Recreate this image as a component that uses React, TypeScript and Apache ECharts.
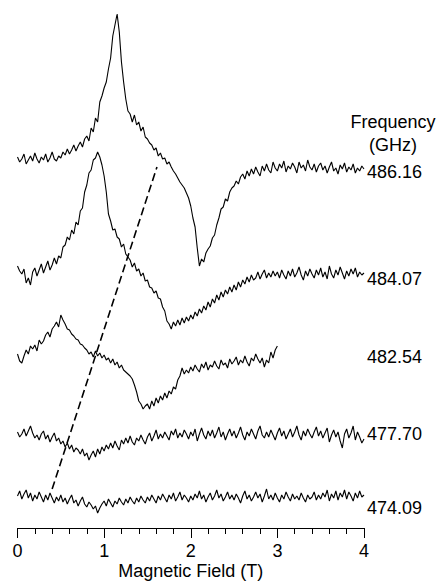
import React, { useEffect, useRef } from "react";
import * as echarts from "echarts";

// Magnetic field sampling step (T)
const FIELD_STEP = 0.025;

// Frequencies (GHz) labelling each trace, top to bottom
const frequencies = ["486.16", "484.07", "482.54", "477.70", "474.09"];

// Offset signal (a.u.) per trace, sampled every 0.025 T from 0 T (20 samples per row = 0.5 T)
const trace48616 = [
  371, 366, 369, 374, 364, 368, 372, 367, 375, 369, 365, 371, 368, 374, 366, 370, 376, 369, 367, 372,
  370, 376, 373, 379, 374, 378, 383, 377, 382, 386, 381, 389, 392, 387, 400, 396, 410, 406, 426, 432,
  440, 446, 459, 470, 492, 503, 514, 496, 466, 446, 429, 417, 414, 406, 413, 403, 406, 397, 401, 391,
  389, 385, 383, 378, 380, 372, 375, 369, 370, 364, 366, 361, 357, 354, 350, 346, 343, 340, 335, 330,
  322, 310, 301, 280, 262, 269, 266, 275, 279, 282, 290, 293, 303, 310, 319, 321, 329, 327, 336, 340,
  342, 347, 344, 351, 354, 349, 357, 352, 359, 354, 361, 356, 352, 362, 357, 364, 358, 355, 366, 360,
  357, 364, 360, 367, 356, 362, 359, 365, 361, 355, 366, 360, 363, 357, 368, 361, 358, 364, 356, 362,
  365, 358, 362, 355, 361, 366, 357, 360, 354, 363, 359, 365, 356, 361, 358, 364, 355, 360, 357, 362,
  359,
];
const trace48407 = [
  262, 257, 254, 259, 245, 250, 243, 256, 260, 252, 258, 264, 255, 261, 267, 258, 263, 270, 264, 272,
  270, 281, 283, 291, 288, 298, 294, 306, 303, 317, 320, 336, 343, 355, 358, 368, 370, 376, 371, 363,
  352, 336, 314, 307, 298, 299, 291, 289, 281, 284, 274, 271, 268, 261, 265, 257, 259, 252, 255, 247,
  248, 241, 240, 235, 237, 230, 229, 221, 217, 207, 204, 199, 206, 202, 208, 203, 210, 205, 211, 207,
  213, 209, 216, 212, 219, 215, 222, 218, 226, 221, 229, 225, 233, 228, 236, 231, 238, 234, 241, 236,
  243, 238, 246, 241, 248, 244, 251, 246, 253, 248, 250, 256, 249, 254, 258, 250, 255, 251, 257, 252,
  256, 250, 258, 253, 249, 257, 252, 259, 251, 255, 261, 253, 248, 257, 252, 259, 254, 250, 258, 253,
  260, 251, 256, 249, 262, 254, 250, 258, 253, 261, 255, 249, 257, 252, 259, 254, 260, 251, 256, 253,
  255,
];
const trace48254 = [
  174, 167, 165, 172, 178, 174, 182, 179, 183, 177, 188, 184, 187, 193, 196, 191, 199, 202, 206, 201,
  213, 208, 204, 199, 198, 194, 192, 189, 188, 184, 183, 180, 178, 174, 176, 171, 177, 172, 175, 170,
  173, 168, 170, 165, 169, 163, 166, 160, 163, 158, 156, 154, 152, 149, 143, 136, 127, 124, 119, 122,
  124, 119, 127, 122, 130, 125, 132, 128, 135, 130, 137, 134, 141, 139, 148, 152, 160, 154, 158, 155,
  161, 157, 163, 159, 156, 164, 160, 166, 158, 163, 161, 167, 162, 159, 168, 163, 165, 160, 169, 164,
  167, 171, 163, 168, 165, 172, 166, 162, 170, 167, 174, 169, 165, 170, 161, 168, 165, 176, 170, 178,
  182,
];
const trace47770 = [
  96, 91, 94, 99, 92, 97, 102, 95, 90, 93, 88, 94, 97, 89, 93, 86, 91, 95, 87, 90,
  84, 87, 81, 85, 79, 83, 76, 80, 78, 74, 79, 72, 75, 68, 73, 77, 71, 79, 74, 81,
  77, 83, 79, 85, 80, 87, 82, 78, 88, 84, 90, 85, 92, 86, 83, 90, 87, 93, 88, 84,
  91, 95, 87, 92, 98, 89, 94, 90, 96, 92, 88, 97, 93, 99, 90, 95, 91, 98, 94, 89,
  96, 92, 99, 87, 94, 100, 93, 89, 97, 92, 98, 90, 95, 101, 91, 96, 88, 94, 99, 92,
  97, 90, 95, 101, 93, 88, 96, 92, 99, 94, 89, 97, 102, 93, 90, 96, 91, 98, 93, 88,
  95, 100, 92, 97, 89, 94, 99, 91, 96, 102, 93, 88, 97, 92, 99, 94, 90, 96, 101, 92,
  97, 90, 95, 100, 86, 93, 98, 91, 96, 87, 80, 94, 99, 90, 95, 102, 88, 96, 91, 85,
  89,
];
const trace47409 = [
  32, 37, 29, 34, 38, 30, 35, 27, 33, 29, 36, 31, 26, 33, 28, 35, 30, 25, 31, 27,
  33, 26, 30, 24, 29, 33, 25, 28, 22, 27, 31, 24, 21, 26, 23, 19, 22, 15, 20, 24,
  27, 22, 29, 25, 21, 27, 24, 30, 26, 23, 29, 25, 31, 27, 24, 30, 26, 32, 28, 25,
  31, 27, 33, 29, 25, 32, 28, 34, 30, 26, 33, 29, 35, 27, 31, 36, 28, 33, 30, 26,
  32, 28, 34, 30, 37, 29, 33, 26, 31, 35, 28, 32, 38, 30, 34, 27, 31, 36, 29, 33,
  28, 34, 30, 25, 32, 37, 29, 33, 27, 31, 36, 30, 34, 26, 32, 39, 29, 33, 28, 35,
  30, 26, 33, 29, 36, 31, 27, 34, 29, 32, 28, 35, 30, 26, 33, 29, 31, 36, 28, 33,
  29, 35, 31, 38, 27, 34, 30, 37, 28, 35, 31, 38, 29, 36, 32, 27, 35, 30, 37, 31,
  33,
];
const traces = [trace48616, trace48407, trace48254, trace47770, trace47409];

// Level (a.u.) at which each frequency label sits
const labelLevels = [356, 249, 171, 94, 20];

// Dashed guide line through the peak shift: [field T, level a.u.]
const guideLine = [
  [0.4, 39],
  [1.61, 361],
];

const X_MIN = 0;
const X_MAX = 4;
const X_INTERVAL = 1;
const Y_MIN = 0;
const Y_MAX = 528;

const FONT = "Liberation Sans, Arial, Helvetica, sans-serif";

export default function App() {
  const ref = useRef<HTMLDivElement>(null);

  useEffect(() => {
    if (!ref.current) return;
    const chart = echarts.init(ref.current, undefined, { renderer: "svg" });

    const series: any[] = traces.map((vals, k) => ({
      name: frequencies[k],
      type: "line",
      symbol: "none",
      showSymbol: false,
      silent: true,
      lineStyle: { color: "#000", width: 1.1 },
      data: vals.map((v, i) => [Number((i * FIELD_STEP).toFixed(3)), v]),
    }));
    series.push({
      name: "guide",
      type: "line",
      symbol: "none",
      silent: true,
      lineStyle: { color: "#000", width: 1.6, type: [8, 4] },
      data: guideLine,
    });

    chart.setOption({
      animation: false,
      backgroundColor: "#fff",
      grid: {
        left: 17.5,
        right: 76,
        top: 0,
        bottom: 54,
        containLabel: false,
        outerBoundsMode: "none",
      },
      xAxis: {
        type: "value",
        min: X_MIN,
        max: X_MAX,
        interval: X_INTERVAL,
        name: "Magnetic Field (T)",
        nameLocation: "middle",
        nameGap: 34,
        nameMoveOverlap: false,
        nameTextStyle: { fontFamily: FONT, fontSize: 18, color: "#000" },
        axisLine: { show: true, onZero: false, lineStyle: { color: "#000", width: 1 } },
        axisTick: { show: true, length: 10, lineStyle: { color: "#000", width: 1 } },
        minorTick: { show: true, splitNumber: 5, length: 6, lineStyle: { color: "#000", width: 1 } },
        splitLine: { show: false },
        axisLabel: { fontFamily: FONT, fontSize: 18, color: "#000", margin: 14 },
      },
      yAxis: {
        type: "value",
        min: Y_MIN,
        max: Y_MAX,
        show: false,
        splitLine: { show: false },
      },
      series,
    });

    const graphics: any[] = frequencies.map((f, k) => {
      const p = chart.convertToPixel({ gridIndex: 0 }, [X_MAX, labelLevels[k]]) as number[];
      return {
        type: "text",
        x: p[0] + 3,
        y: p[1],
        style: {
          text: f,
          fontFamily: FONT,
          fontSize: 18,
          fill: "#000",
          textAlign: "left",
          textVerticalAlign: "middle",
        },
      };
    });
    graphics.push(
      {
        type: "text",
        x: 393,
        y: 122,
        style: { text: "Frequency", fontFamily: FONT, fontSize: 18, fill: "#000", textAlign: "center", textVerticalAlign: "middle" },
      },
      {
        type: "text",
        x: 393,
        y: 145,
        style: { text: "(GHz)", fontFamily: FONT, fontSize: 18, fill: "#000", textAlign: "center", textVerticalAlign: "middle" },
      }
    );
    chart.setOption({ graphic: graphics });

    return () => chart.dispose();
  }, []);

  return (
    <div
      ref={ref}
      style={{ position: "fixed", left: 0, top: 0, width: 440, height: 582, background: "#fff" }}
    />
  );
}
